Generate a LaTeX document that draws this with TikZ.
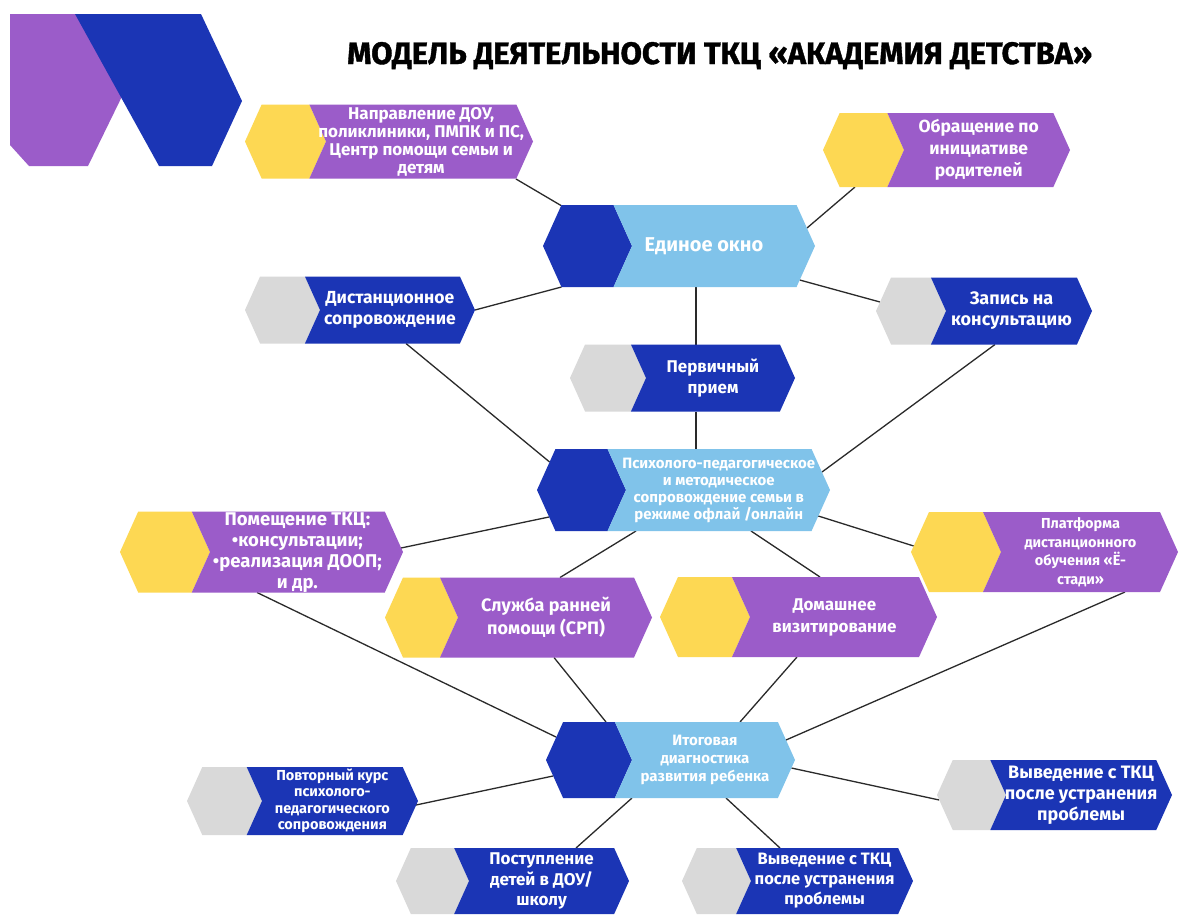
\documentclass[tikz,border=0pt]{standalone}
\usepackage{fontspec}
\setmainfont{Fira Sans}
\newfontfamily\titlefont{Fira Sans}[BoldFeatures={FakeBold=1.2}]
\usetikzlibrary{calc}
\definecolor{yel}{HTML}{FDD853}
\definecolor{pur}{HTML}{9B5CC9}
\definecolor{dkb}{HTML}{1B35B5}
\definecolor{ltb}{HTML}{80C3EA}
\definecolor{gry}{HTML}{D9D9D9}
\definecolor{lnc}{HTML}{2A2A2A}
\newcommand\fsz[2]{\fontsize{#1}{#2}\selectfont\bfseries}
\newcommand\hexpair[7]{%
  \pgfmathsetmacro\hexd{0.45*#5}%
  \pgfmathsetmacro\hextx{(#2+#3-\hexd)/2}%
  \fill[#6] (#1,#4) -- ({#1+\hexd},{#4-#5}) -- ({#2-\hexd},{#4-#5}) -- (#2,#4) -- ({#2-\hexd},{#4+#5}) -- ({#1+\hexd},{#4+#5}) -- cycle;
  \fill[#7] ({#2-\hexd},{#4-#5}) -- ({#3-\hexd},{#4-#5}) -- (#3,#4) -- ({#3-\hexd},{#4+#5}) -- ({#2-\hexd},{#4+#5}) -- (#2,#4) -- cycle;
}
\tikzset{
  itxt/.style={text=white, align=center, inner sep=0pt},
  conn/.style={draw=lnc, line width=1.3pt},
}
\begin{document}
\begin{tikzpicture}[x=1pt,y=-1pt]
\useasboundingbox (0,0) rectangle (1179,914);
\fill[white] (0,0) rectangle (1179,914);
% logo
\fill[pur] (10,14) -- (100,14) -- (130,80) -- (88,166) -- (29,166) -- (10,145) -- cycle;
\fill[dkb] (75,14) -- (201,14) -- (242,101) -- (212,166) -- (159,166) -- cycle;
% title
\node[anchor=base west, inner sep=0pt] (title) at (347,64) {\resizebox{745pt}{22pt}{\titlefont\bfseries МОДЕЛЬ ДЕЯТЕЛЬНОСТИ ТКЦ «АКАДЕМИЯ ДЕТСТВА»}};
% connector points
\coordinate (A1) at (516,179);
\coordinate (C1) at (561,205.5);
\coordinate (B1) at (855,187);
\coordinate (C2) at (807,228);
\coordinate (C3) at (561.5,287);
\coordinate (D1) at (475,310);
\coordinate (C4) at (696,287);
\coordinate (E1) at (696,344.5);
\coordinate (E2) at (696,411.5);
\coordinate (G1) at (696,449);
\coordinate (C5) at (799.7,280);
\coordinate (F1) at (880,302);
\coordinate (D2) at (406,343.5);
\coordinate (G2) at (549.6,462);
\coordinate (F2) at (995,344.5);
\coordinate (G3) at (822,472);
\coordinate (G4) at (549,517);
\coordinate (H1) at (401,548);
\coordinate (G5) at (636,531);
\coordinate (I1) at (560,577.5);
\coordinate (G6) at (751,531);
\coordinate (J1) at (820,577);
\coordinate (G7) at (818.3,516);
\coordinate (K1) at (913.7,546);
\coordinate (H2) at (257,592.5);
\coordinate (L1) at (556,737);
\coordinate (I2) at (554,657.5);
\coordinate (L2) at (606,722);
\coordinate (J2) at (797,657);
\coordinate (L3) at (740,722);
\coordinate (K2) at (1125,592);
\coordinate (L4) at (786,740);
\coordinate (L5) at (553,776);
\coordinate (M1) at (416,805);
\coordinate (L6) at (632,798);
\coordinate (N1) at (576,848);
\coordinate (L7) at (726,798);
\coordinate (O1) at (780,848);
\coordinate (L8) at (791.4,768);
\coordinate (P1) at (939.25,800);
% connectors
\draw[conn] (A1) -- (C1);
\draw[conn] (B1) -- (C2);
\draw[conn] (C3) -- (D1);
\draw[conn] (C4) -- (E1);
\draw[conn] (E2) -- (G1);
\draw[conn] (C5) -- (F1);
\draw[conn] (D2) -- (G2);
\draw[conn] (F2) -- (G3);
\draw[conn] (G4) -- (H1);
\draw[conn] (G5) -- (I1);
\draw[conn] (G6) -- (J1);
\draw[conn] (G7) -- (K1);
\draw[conn] (H2) -- (L1);
\draw[conn] (I2) -- (L2);
\draw[conn] (J2) -- (L3);
\draw[conn] (K2) -- (L4);
\draw[conn] (L5) -- (M1);
\draw[conn] (L6) -- (N1);
\draw[conn] (L7) -- (O1);
\draw[conn] (L8) -- (P1);
% items
\hexpair{245}{326}{533}{141.5}{37}{yel}{pur}
\node[itxt, font=\fsz{17}{18}] (A) at (\hextx,142) {Направление ДОУ,\\поликлиники, ПМПК и ПС,\\Центр помощи семьи и\\детям};
\hexpair{823}{904}{1070}{150}{37}{yel}{pur}
\node[itxt, font=\fsz{17.5}{22}] (B) at (\hextx,150) {Обращение по\\инициативе\\родителей};
\hexpair{543}{632}{815}{246}{41}{dkb}{ltb}
\node[itxt, font=\fsz{20}{24}] (C) at (704,246) {Единое окно};
\hexpair{245}{320}{475}{310}{33.5}{gry}{dkb}
\node[itxt, font=\fsz{17.5}{21}] (D) at (\hextx,310) {Дистанционное\\сопровождение};
\hexpair{570}{646}{795}{378}{33.5}{gry}{dkb}
\node[itxt, font=\fsz{17}{21}] (E) at (\hextx,378) {Первичный\\прием};
\hexpair{876}{946}{1092}{311}{33.5}{gry}{dkb}
\node[itxt, font=\fsz{18}{21}] (F) at (\hextx,311) {Запись на\\консультацию};
\hexpair{537}{626}{830}{490}{41}{dkb}{ltb}
\node[itxt, font=\fsz{15}{17}] (G) at (\hextx,490) {Психолого-педагогическое\\и методическое\\сопровождение семьи в\\режиме офлай /онлайн};
\hexpair{120}{210}{403}{552}{40.5}{yel}{pur}
\node[itxt, font=\fsz{18.5}{21}] (H) at (\hextx,553) {Помещение ТКЦ:\\•консультации;\\•реализация ДООП;\\и др.};
\hexpair{385}{458}{652}{617.5}{40}{yel}{pur}
\node[itxt, font=\fsz{18}{22.5}] (I) at (\hextx,617.5) {Служба ранней\\помощи (СРП)};
\hexpair{660}{750}{937}{617}{40}{yel}{pur}
\node[itxt, font=\fsz{17}{22}] (J) at (\hextx,617) {Домашнее\\визитирование};
\hexpair{911}{1001}{1178}{552}{40}{yel}{pur}
\node[itxt, font=\fsz{14.5}{18.5}] (K) at (\hextx,552) {Платформа\\дистанционного\\обучения «Ё-\\стади»};
\hexpair{546}{632}{795}{760}{38}{dkb}{ltb}
\node[itxt, font=\fsz{15}{18}] (L) at (\hextx,760) {Итоговая\\диагностика\\развития ребенка};
\hexpair{187}{262}{418}{801}{34}{gry}{dkb}
\node[itxt, font=\fsz{14.5}{16.5}] (M) at (\hextx,801) {Повторный курс\\психолого-\\педагогического\\сопровождения};
\hexpair{396}{469}{629}{881}{33}{gry}{dkb}
\node[itxt, font=\fsz{17}{20.5}] (N) at (\hextx,881) {Поступление\\детей в ДОУ/\\школу};
\hexpair{682}{751}{913}{881}{33}{gry}{dkb}
\node[itxt, font=\fsz{16.5}{20}] (O) at (\hextx,881) {Выведение с ТКЦ\\после устранения\\проблемы};
\hexpair{937}{1006}{1172}{795}{35}{gry}{dkb}
\node[itxt, font=\fsz{18}{21}] (P) at (\hextx,795) {Выведение с ТКЦ\\после устранения\\проблемы};
\end{tikzpicture}
\end{document}
